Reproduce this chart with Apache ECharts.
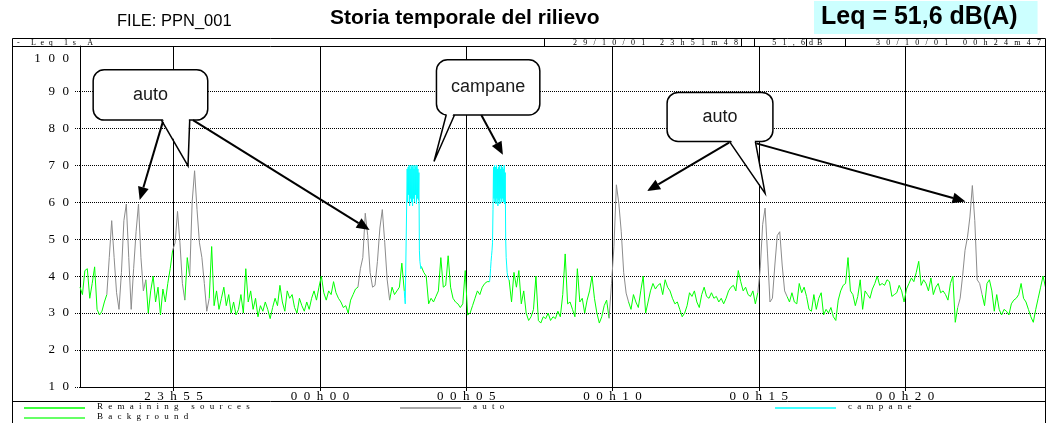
<!DOCTYPE html>
<html><head><meta charset="utf-8">
<script src="https://cdn.jsdelivr.net/npm/echarts@6/dist/echarts.min.js"></script>
<style>html,body{margin:0;padding:0;background:#fff}#c{width:1048px;height:423px}</style>
</head><body><div id="c"></div>
<script>
// ---------------- DATA ----------------
// Leq 1s A, recorded from 29/10/01 23h51m48 to 30/10/01 00h24m47 (seconds from start)
const durationSec = 1979;
const stepSec = 5;
// Level read every 5 s (dB(A))
const leq5s = [
 37,35,41.5,42,34,38,42.5,31,29.5,30.5,
 33,35,45,55,45,35.5,31,41,55,59.5,
 45,31,42,52,59.5,45,36,39,30,36,
 40,33,37,29.5,36.5,33,38,42,47,49,
 57.5,49,38,33.5,45,40,60,68.5,58,49,
 45,38,30.5,34,48,32,36,31,34,37,
 32,35,30,33,29.5,31,35,30,42,33,
 36,31,34,29,32,30.5,33,31,28.5,31.5,
 34,32,37.5,33,30.5,36,34,35,31.5,30,
 34,32,30.5,33,31,34,36,33.5,37,40,
 35.5,33.5,36,35,38.5,35.5,34,33,31.5,32,
 30,33.5,35,36.5,37,42,45,57,51,41,
 37,37.5,44,53,58,49,39,33.5,37,35,
 36,37,43.5,36,33,69,60,69.5,62,69,
 42.6,41,40,32.5,34,33,34.5,36,45,37,
 37.5,45.5,37,34,33,32.5,31.5,32.5,41.5,29.5,
 30,32,34,36,35,37,38,38.5,38.5,45,
 69.5,60,69.5,61,69,45,39,33,41,37,
 41.5,32.5,36,30,28,29,31,40,28,27.3,
 29,28.5,30,28,29,28.5,30.5,29,35,46,
 32.5,33,31,29,42,33,34,30,33.5,36,
 40,34,30,27.3,29,32,33.5,28.6,38,48,
 64.7,59.7,52,41,35.4,33,31,35,33,31.5,
 36,40,30,33,36,38,36.5,37.5,38,35,
 39,37,36,34,32.5,33,31,29,30,32,
 35.5,34.5,36,33,31.5,35,37,34.5,34,35.5,
 34,34.5,33,34,32.5,34,36,37,37.5,36,
 41.5,38.5,36,37,35,34.5,36,32.5,35.5,42,
 54,58.4,46,33,34,43,51,52,43,36,
 34.5,33,35.5,33,32.5,38,35.5,37,34.5,31,
 30.5,35,31,34,35.5,29.5,31,30,31.5,29,
 28,33.5,36,37.5,38,45,36,35,32,34.5,
 39,31,36,35,34,36.5,38,40,37.5,38,
 37.5,39,38.5,34.5,35,35.5,37.5,36,33,36.5,
 38,39.5,38.5,41,44,37.5,39,38,36,39.5,
 35,37,38,35.5,36,35,33.5,38,40,27.5,
 31.5,34,40,47,50.5,56,64.5,55,39,38,
 35,32,38,39,36,30.5,35,31,29.5,31,
 30.5,29.5,32.5,33.5,34,35,38,34,33,31,
 29,27.5,31,34,37,40,37
];
// Bell episodes read every 1 s
const bell1Start = 665;
const bell1 = [36,34,32.5,32,32.5,33,69,60,69.5,62,70,59,69,61,70,60,69.5,59,70,61,
               69,60,70,62,69.5,59.5,70,61,69,60.5,68,47,44,43.5,42,42.6];
const bell2Start = 840;
const bell2 = [38.5,40,42,44,45.5,47,49,58,69.5,61,70,60,69.5,59.5,70,61,69,59,69.5,60.5,
               70,59.5,69,61,70,60,69.5,61,69,60,70,59.5,68,50,45,43,41,40,39.5,39,39];
// Source identification (seconds from start)
const autoSpans = [[55,135],[190,215],[225,265],[570,635],[1085,1125],[1390,1450],[1800,1850]];
const campaneSpans = [[665,700],[840,880]];
// Axis ticks
const xTickSecs = [192,492,792,1092,1392,1692];
const xTickLabels = ['23h55','00h00','00h05','00h10','00h15','00h20'];
const yGridTicks = [10,20,30,40,50,60,70,80,90];
const yLabelTicks = [10,20,30,40,50,60,70,80,90,100];
const seriesNames = ['Remaining sources','auto','campane','Background'];
const seriesColors = ['#00ff00','#8c8c8c','#00ffff','#33ff33'];

// Callouts (data coordinates: seconds, dB)
const callouts = [
  {text:'auto', box:[27,95.8,262,82.2], tail:[[167,82.2],[221.5,69.8],[225,82.2]],
   arrows:[[[170,81.8],[122.4,60.6]],[[231.7,82.2],[594,52.5]]]},
  {text:'campane', box:[731,98.5,943,83.6], tail:[[751,83.6],[726,71],[768,83.6]],
   arrows:[[[823,83.6],[867.3,72.8]]]},
  {text:'auto', box:[1204,89.7,1421,76.4], tail:[[1332,76.4],[1405,62.4],[1385,76.4]],
   arrows:[[[1331,76.1],[1163,63]],[[1387,75.9],[1816,60.2]]]}
];

// ---------------- BUILD ----------------
const serif = '"Liberation Serif","Times New Roman",serif';
const sans = '"Liberation Sans",Arial,sans-serif';
const sp = (s, sep) => s.split('').join(sep);

const bells = [{start:bell1Start, values:bell1},{start:bell2Start, values:bell2}];
const pts = [];
leq5s.forEach((v,i)=>{
  const t = i*stepSec;
  if (bells.some(b => t>=b.start && t<=b.start+b.values.length-1)) return;
  pts.push([t,v]);
});
bells.forEach(b => b.values.forEach((v,k)=>pts.push([b.start+k, v])));
pts.sort((a,b)=>a[0]-b[0]);
const inSpans = (t, spans, strict) => spans.some(([s,e]) => strict ? (t>s && t<e) : (t>=s && t<=e));
const allSpans = autoSpans.concat(campaneSpans);
const greenData = pts.map(([t,v]) => inSpans(t, allSpans, true) ? [t,'-'] : [t,v]);
const autoData = pts.map(([t,v]) => inSpans(t, autoSpans, false) ? [t,v] : [t,'-']);
const campData = pts.map(([t,v]) => inSpans(t, campaneSpans, false) ? [t,v] : [t,'-']);
const datas = [greenData, autoData, campData, []];

const chart = echarts.init(document.getElementById('c'), null, {renderer:'canvas'});

// legend rows: [left, top, swatch y]
const legendPos = [[24,402,408],[400,402,408],[775,402,408],[24,412,418]];
const option = {
  animation:false,
  backgroundColor:'#fff',
  title:[
    {text:'FILE: PPN_001', left:117, top:13, padding:0, textStyle:{fontFamily:sans, fontSize:16.5, fontWeight:'normal', color:'#000'}},
    {text:'Storia temporale del rilievo', left:330, top:8, padding:0, textStyle:{fontFamily:sans, fontSize:21, fontWeight:'bold', color:'#000'}},
    {text:'Leq = 51,6 dB(A)', left:814, top:1, padding:[4,20,4,7], backgroundColor:'#ccffff', textStyle:{fontFamily:sans, fontSize:25, fontWeight:'bold', color:'#000'}}
  ],
  legend: seriesNames.map((n,i)=>({
    left:legendPos[i][0], top:legendPos[i][1], padding:0,
    data:[n], icon:'rect', itemWidth:61, itemHeight:1, selectedMode:false,
    itemStyle:{opacity:0, borderWidth:0},
    lineStyle:{opacity:0, width:0},
    formatter: name => sp(name,'\u2002\u200a'),
    textStyle:{fontFamily:serif, fontSize:9, color:'#000', padding:[0,0,0,7]}
  })),
  grid:{left:80, right:3, top:46, bottom:36, show:false},
  xAxis:{type:'value', min:0, max:durationSec,
    axisLine:{show:true, lineStyle:{color:'#000', width:1}},
    axisTick:{show:true, customValues:xTickSecs, length:4, lineStyle:{color:'#000'}},
    axisLabel:{show:true, customValues:xTickSecs, margin:3, fontFamily:serif, fontSize:13, color:'#000',
      formatter: v => { const k = xTickSecs.indexOf(v); return k<0 ? '' : sp(xTickLabels[k],'\u2002'); }},
    splitLine:{show:true, lineStyle:{color:'#000', width:1, type:'solid'}}
  },
  yAxis:{type:'value', min:10, max:102.25,
    axisLine:{show:true, lineStyle:{color:'#000', width:1}},
    axisTick:{show:true, customValues:yGridTicks, length:5, lineStyle:{color:'#000', type:[1,1]}},
    axisLabel:{show:true, customValues:yLabelTicks, margin:11, fontFamily:serif, fontSize:13, color:'#000',
      formatter: v => { const s = sp(String(v),'\u2002\u200a'); return v===100 ? '{t|'+s+'}' : s; },
      rich:{t:{padding:[8,0,0,0], fontFamily:serif, fontSize:13, color:'#000'}}},
    splitLine:{show:true, lineStyle:{color:'#000', width:1, type:[1,1]}}
  },
  series: seriesNames.map((n,i)=>({
    type:'line', name:n, data:datas[i], showSymbol:false, symbol:'none', connectNulls:false,
    lineStyle:{width:1, color:seriesColors[i]}, itemStyle:{color:seriesColors[i]},
    emphasis:{disabled:true}, silent:true, z:2+i, clip:true
  }))
};
chart.setOption(option);

// ---------- decorations ----------
const px = p => chart.convertToPixel({gridIndex:0}, p);
const els = [];
const blk = {stroke:'#000', lineWidth:1, fill:null};
// legend swatches (series colours)
legendPos.forEach((p,i)=>els.push({type:'line', shape:{x1:p[0], y1:p[2], x2:p[0]+61, y2:p[2]},
  style:{stroke:seriesColors[i], lineWidth:1.5}, z:70}));
// frame and header row
els.push({type:'rect', shape:{x:12.5,y:38.5,width:1033,height:420}, style:{stroke:'#000', lineWidth:1, fill:null}, z:50});
els.push({type:'line', shape:{x1:12,y1:46.5,x2:1046,y2:46.5}, style:blk, z:50});
els.push({type:'line', shape:{x1:12,y1:401.5,x2:1046,y2:401.5}, style:blk, z:50});
[544.5,741.5,754.5,806.5,845.5].forEach(x=>els.push({type:'line', shape:{x1:x,y1:38,x2:x,y2:46}, style:blk, z:50}));
const hdr = (text, x, align) => ({type:'text', x:x, y:42.5, z:51,
  style:{text:text, font:'8px '+serif, fill:'#000', align:align, verticalAlign:'middle'}});
els.push(hdr(sp('- Leq 1s A','\u2002\u200a'), 17, 'left'));
els.push(hdr(sp('29/10/01 23h51m48','\u2002\u2009\u200a'), 738, 'right'));
els.push(hdr(sp('51,6','\u2002\u2009\u200a'), 805, 'right'));
els.push(hdr(sp('dB','\u2002'), 809, 'left'));
els.push(hdr(sp('30/10/01 00h24m47','\u2002\u2009\u200a'), 1041, 'right'));

// callouts
function arrow(a, b){
  const A = px(a), B = px(b);
  const dx = B[0]-A[0], dy = B[1]-A[1], L = Math.hypot(dx,dy), ux = dx/L, uy = dy/L;
  const hl = 13, hw = 5.5;
  const bx = B[0]-ux*hl, by = B[1]-uy*hl;
  els.push({type:'line', shape:{x1:A[0],y1:A[1],x2:bx,y2:by}, style:{stroke:'#000', lineWidth:2}, z:60});
  els.push({type:'polygon', shape:{points:[B,[bx-uy*hw, by+ux*hw],[bx+uy*hw, by-ux*hw]]}, style:{fill:'#000'}, z:60});
}
callouts.forEach(c=>{
  const p1 = px([c.box[0],c.box[1]]), p2 = px([c.box[2],c.box[3]]);
  els.push({type:'rect', shape:{x:p1[0], y:p1[1], width:p2[0]-p1[0], height:p2[1]-p1[1], r:11},
    style:{fill:'#fff', stroke:'#000', lineWidth:1.5}, z:55});
  const t = c.tail.map(px);
  els.push({type:'polygon', shape:{points:[[t[0][0]+0.8,t[0][1]-2],t[1],[t[2][0]-0.8,t[2][1]-2]]}, style:{fill:'#fff'}, z:56});
  els.push({type:'polyline', shape:{points:t}, style:{stroke:'#000', lineWidth:1.5, fill:null}, z:56});
  els.push({type:'text', x:(p1[0]+p2[0])/2, y:(p1[1]+p2[1])/2, z:57,
    style:{text:c.text, font:'18px '+sans, fill:'#1a1a1a', align:'center', verticalAlign:'middle'}});
  c.arrows.forEach(a=>arrow(a[0],a[1]));
});
chart.setOption({graphic:{elements:els}});
</script></body></html>
